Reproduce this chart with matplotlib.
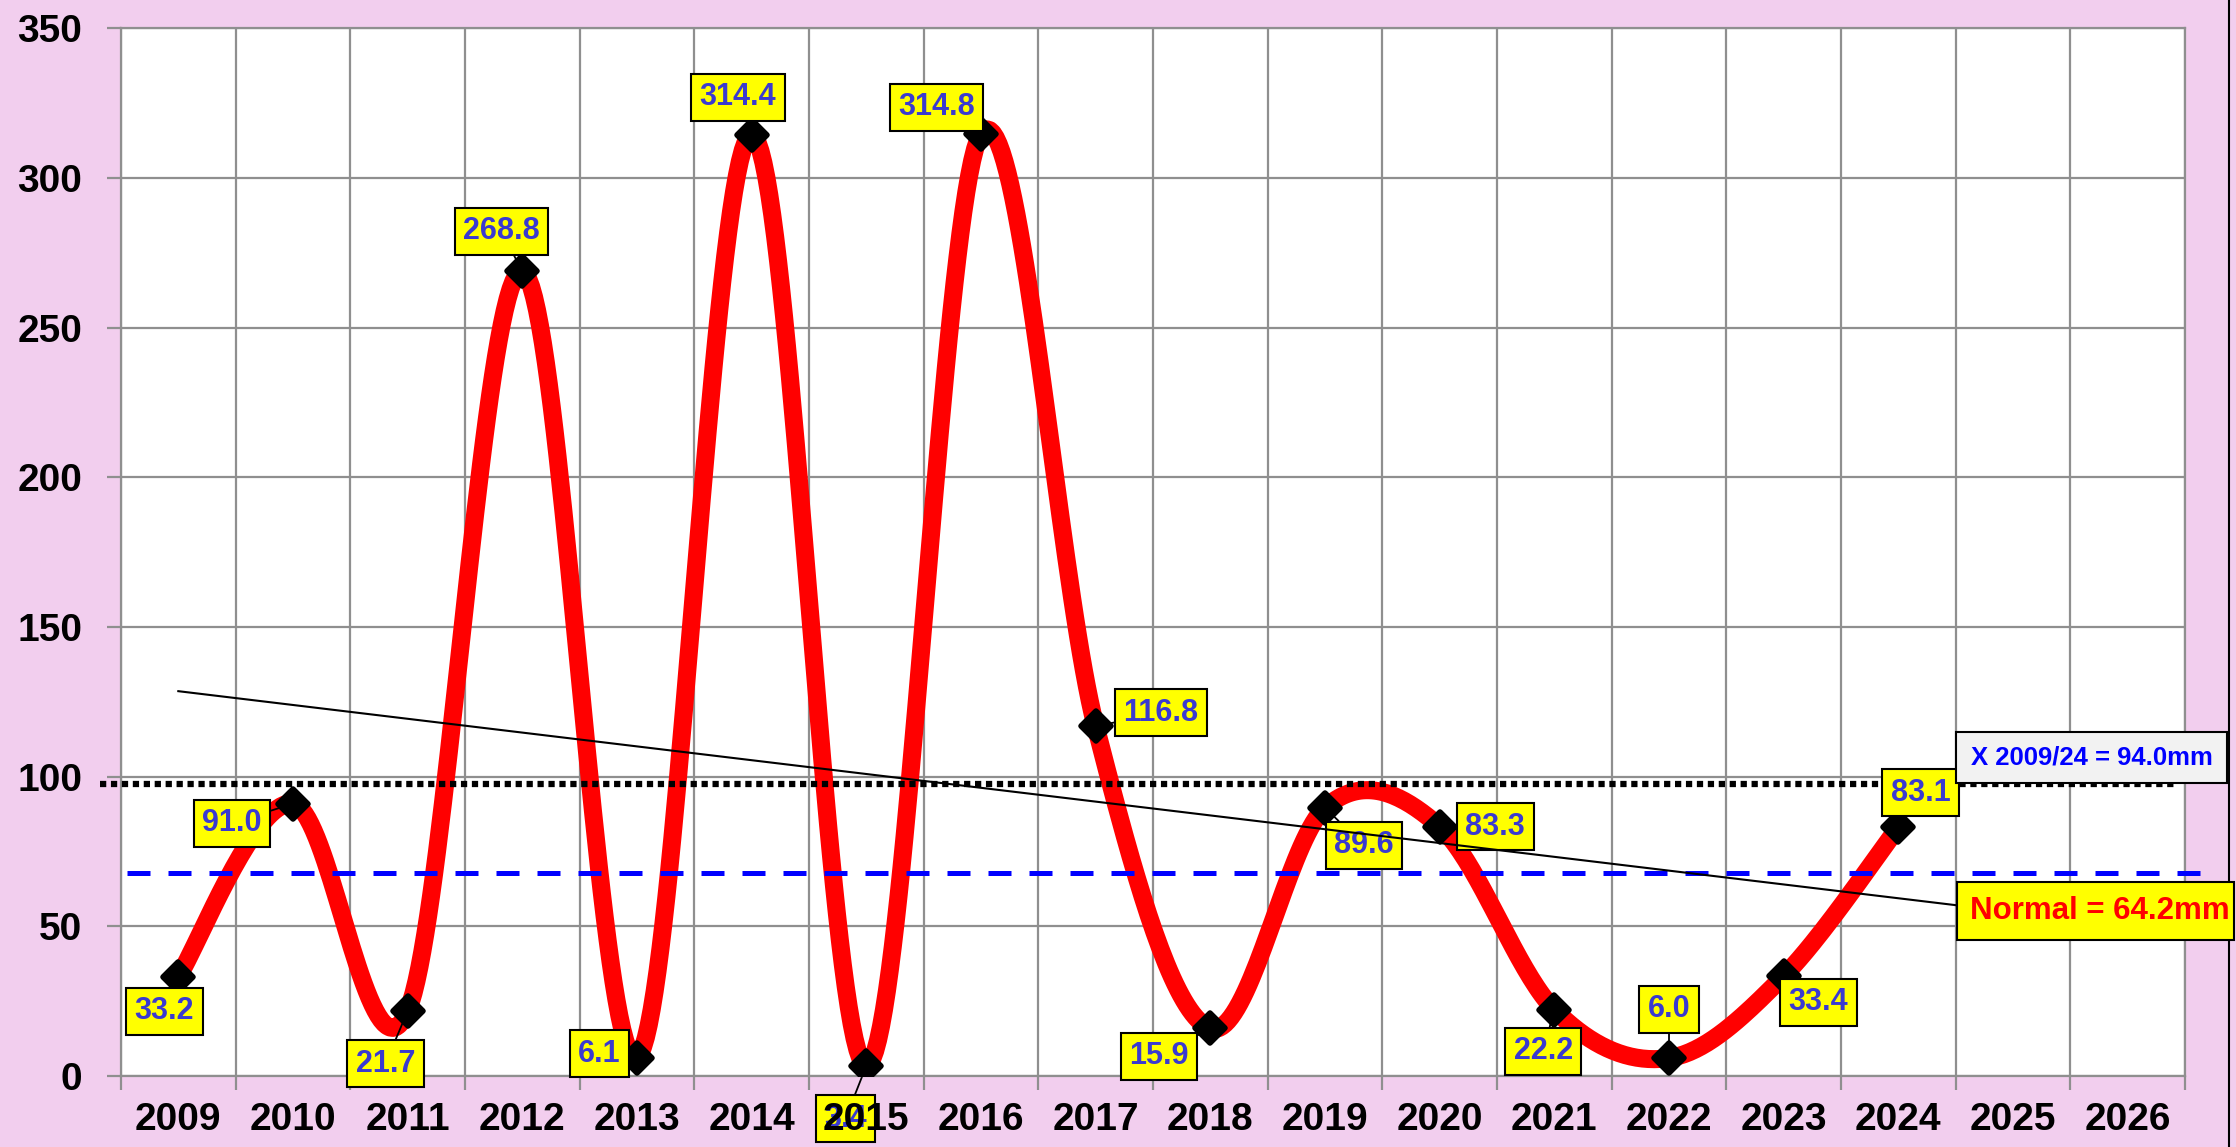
import numpy as np
import matplotlib
matplotlib.use("Agg")
import matplotlib.pyplot as plt
from matplotlib.markers import MarkerStyle
from matplotlib.patches import Rectangle
from matplotlib.lines import Line2D

# data
years = list(range(2009, 2027))
rain = [33.2, 91.0, 21.7, 268.8, 6.1, 314.4, 3.4, 314.8, 116.8, 15.9,
        89.6, 83.3, 22.2, 6.0, 33.4, 83.1]
normal = 64.2
mean_line_level = 97.7     # where the dotted line sits
normal_line_level = 67.7   # where the dashed line sits

# label offsets (points) so the boxes sit like in the original
label_offsets = [(-10, -25), (-44, -14), (-16, -38), (-15, 29), (-27, 3), (-10, 27),
                 (-15, -38), (-32, 19), (47, 10), (-37, -20), (28, -27), (40, 0),
                 (-8, -30), (0, 35), (25, -19), (16, 25)]

bg = '#F2CEEE'
grid_c = '#8F8F8F'
lab_blue = '#3A3AD0'

plt.rcParams['font.family'] = ['Liberation Sans', 'DejaVu Sans']
plt.rcParams['font.weight'] = 'bold'


def excel_smooth(x, y, n=40):
    # bezier smoothing like the spreadsheet "smoothed line"
    pts = np.column_stack([x, y]).astype(float)
    out = []
    t = np.linspace(0, 1, n)[:, None]
    for i in range(len(pts) - 1):
        p0 = pts[max(i - 1, 0)]
        p1 = pts[i]
        p2 = pts[i + 1]
        p3 = pts[min(i + 2, len(pts) - 1)]
        c1 = p1 + (p2 - p0) / 6
        c2 = p2 - (p3 - p1) / 6
        seg = (1 - t) ** 3 * p1 + 3 * (1 - t) ** 2 * t * c1 + 3 * (1 - t) * t ** 2 * c2 + t ** 3 * p2
        out.append(seg if i == 0 else seg[1:])
    return np.vstack(out)


fig = plt.figure(figsize=(22.36, 11.47), dpi=100, facecolor=bg)
ax = fig.add_axes([0.0541, 0.0619, 0.9231, 0.9133])
ax.set_facecolor('white')

xi = np.arange(len(rain))
ax.set_xlim(-0.5, len(years) - 0.5)
ax.set_ylim(0, 350)

# grid / ticks
ax.set_xticks(np.arange(-0.5, len(years), 1.0))
ax.set_xticklabels([])
ax.set_xticks(np.arange(len(years)), minor=True)
ax.set_xticklabels([str(y) for y in years], minor=True)
ax.set_yticks(np.arange(0, 351, 50))
ax.grid(True, which='major', color=grid_c, lw=1.6)
ax.tick_params(axis='x', which='major', length=10, width=1.6, color=grid_c)
ax.tick_params(axis='x', which='minor', length=0, pad=19, labelsize=28)
ax.tick_params(axis='y', length=10, width=1.6, color=grid_c, pad=18, labelsize=28)
for s in ax.spines.values():
    s.set_color(grid_c)
    s.set_linewidth(1.6)

# smoothed red line and markers
sm = excel_smooth(xi, rain)
ax.plot(sm[:, 0], sm[:, 1], color='red', lw=13, solid_capstyle='round', zorder=3)
ax.plot(xi, rain, linestyle='none', marker=MarkerStyle('D', joinstyle='round'),
        ms=15, mfc='black', mec='black', mew=4, zorder=4)

# mean and normal lines
ax.plot([-0.68, 17.43], [mean_line_level] * 2, color='black', lw=4.5,
        linestyle=(0, (1, 0.75)), dash_capstyle='butt', clip_on=False, zorder=5)
ax.plot([-0.45, 17.67], [normal_line_level] * 2, color='blue', lw=3.6,
        linestyle=(0, (4.6, 3.6)), clip_on=False, zorder=5)

# linear trend
k, b = np.polyfit(xi, rain, 1)
tx = np.array([0, 17.4])
ax.plot(tx, k * tx + b, color='black', lw=1.5, zorder=7)

# value labels
for x, v, (dx, dy), yr in zip(xi, rain, label_offsets, years):
    z = 1 if yr == 2015 else 6
    ax.annotate(f'{v:.1f}', (x, v), xytext=(dx, dy), textcoords='offset points',
                ha='center', va='center', fontsize=22, fontweight='bold', color=lab_blue,
                bbox=dict(boxstyle='square,pad=0.28', fc='yellow', ec='black', lw=1.5),
                arrowprops=dict(arrowstyle='-', color='black', lw=1.3, shrinkA=0, shrinkB=4),
                annotation_clip=False, zorder=z)

# boxes on the right
fig.add_artist(Line2D([0.9968, 0.9968], [0, 1], transform=fig.transFigure, color='black', lw=1.5, zorder=2))
fig.add_artist(Rectangle((0.8748, 0.3173), 0.1212, 0.0445, transform=fig.transFigure,
                         fc='#F2F2F2', ec='black', lw=1.5, zorder=3))
fig.text(0.9354, 0.3396, f'X {years[0]}/{str(years[len(rain) - 1])[2:]} = {np.mean(rain):.1f}mm',
         ha='center', va='center', fontsize=18.5, fontweight='bold', color='blue', zorder=4)
fig.add_artist(Rectangle((0.8752, 0.1805), 0.1239, 0.0506, transform=fig.transFigure,
                         fc='yellow', ec='black', lw=1.5, zorder=3))
fig.text(0.9390, 0.2058, f'Normal = {normal:.1f}mm', ha='center', va='center',
         fontsize=22.5, fontweight='bold', color='red', zorder=4)

fig.savefig('out.png', dpi=100, facecolor=bg)
